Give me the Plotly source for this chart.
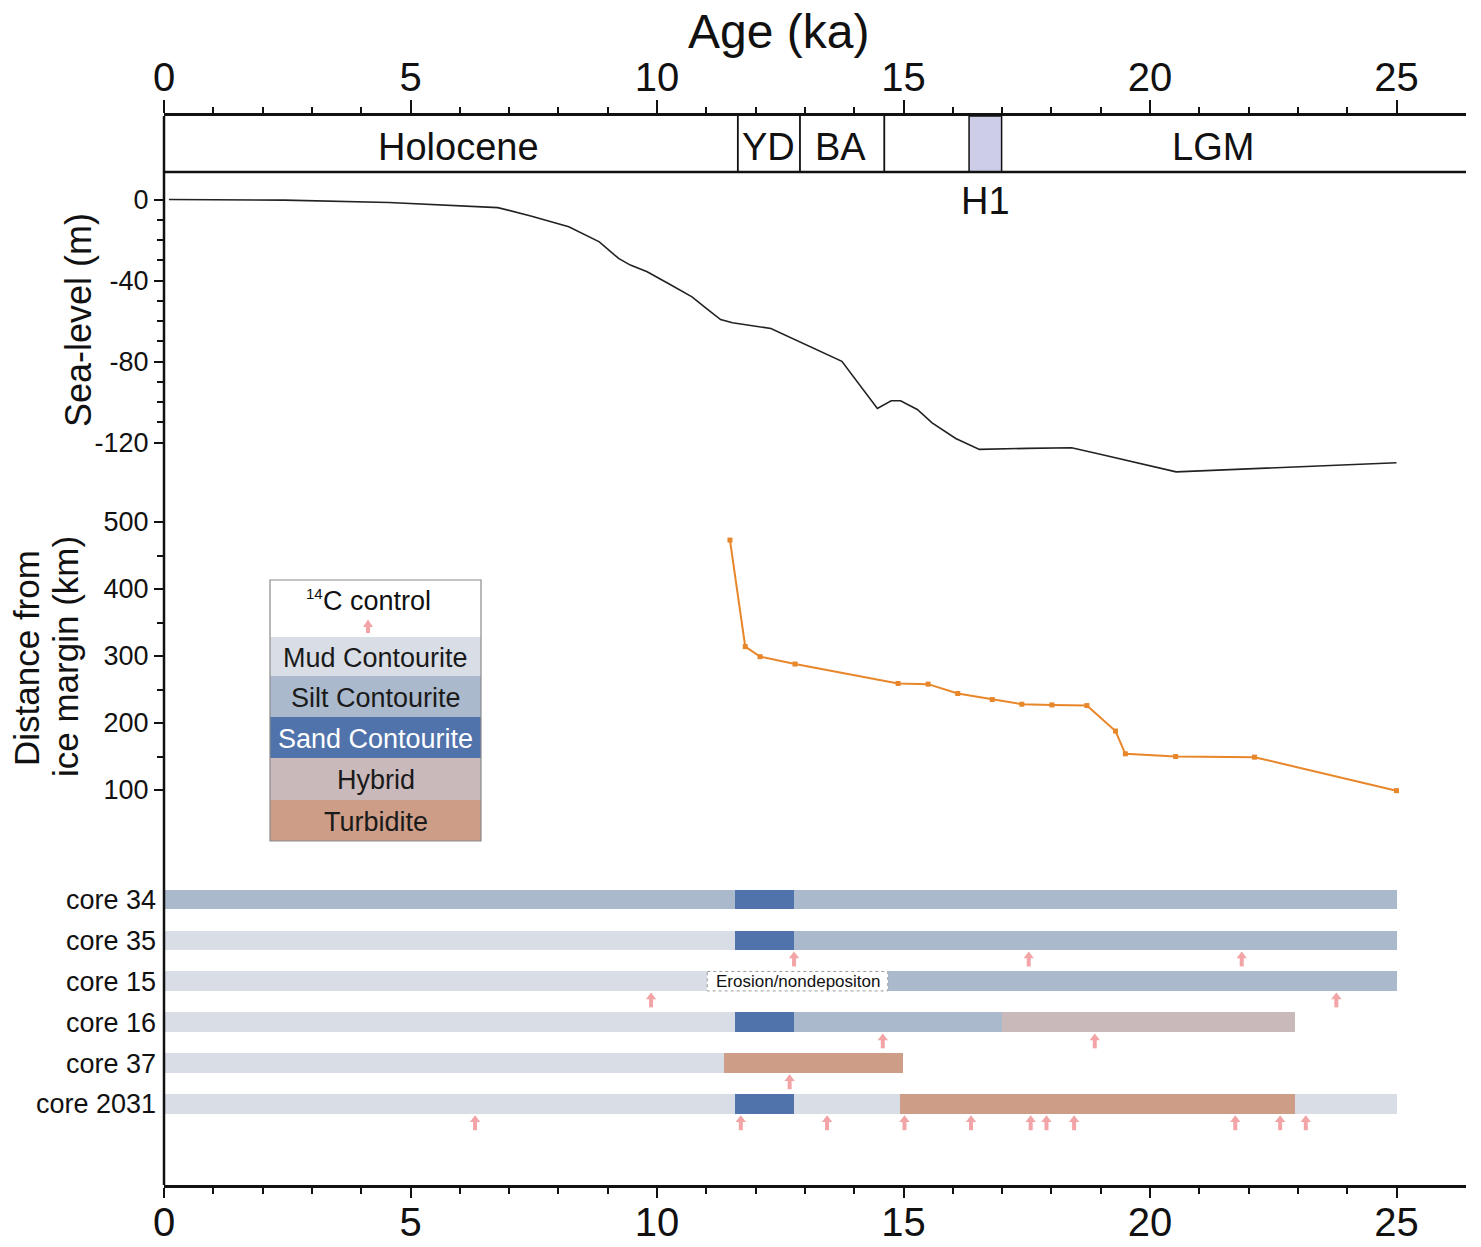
import plotly.graph_objects as go

# ---------------- data ----------------
# Sea-level curve (age in ka, sea level in m)
sea_age = [0.1, 2.44, 4.56, 6.77, 7.44, 8.21, 8.83, 9.22, 9.46, 9.80, 10.23, 10.71, 11.00,
           11.29, 11.53, 11.74, 12.31, 13.75, 14.47, 14.75, 14.94, 15.28, 15.58, 16.06,
           16.54, 17.5, 18.41, 18.99, 20.53, 25.0]
sea_level = [0.0, -0.3, -1.5, -4.0, -8.1, -13.5, -20.9, -29.1, -32.4, -35.7, -41.5, -48.1, -53.8,
             -59.3, -60.9, -61.6, -63.7, -79.9, -103.2, -99.4, -99.4, -103.7, -110.3, -118.0,
             -123.4, -122.9, -122.6, -125.8, -134.5, -130.0]

# Distance from ice margin (age in ka, distance in km)
dist_age = [11.48, 11.79, 12.09, 12.80, 14.89, 15.50, 16.10, 16.80, 17.40, 18.01, 18.72,
            19.30, 19.50, 20.52, 22.12, 25.00]
dist_km = [473, 314, 299, 288, 259, 258, 244, 235, 228, 227, 226, 188, 154, 150, 149, 99]

# Cores and facies
cores = ["core 34", "core 35", "core 15", "core 16", "core 37", "core 2031"]
facies_names = ["Mud Contourite", "Silt Contourite", "Sand Contourite", "Hybrid", "Turbidite"]
facies_colors = ["#d9dee6", "#aab9cc", "#5173ab", "#c9b9ba", "#cd9d88"]
facies_text_colors = ["#1a1a1a", "#1a1a1a", "#ffffff", "#1a1a1a", "#1a1a1a"]

seg_core = ["core 34", "core 34", "core 34",
            "core 35", "core 35", "core 35",
            "core 15", "core 15", "core 15",
            "core 16", "core 16", "core 16", "core 16",
            "core 37", "core 37",
            "core 2031", "core 2031", "core 2031", "core 2031", "core 2031"]
seg_start = [0, 11.58, 12.78,
             0, 11.58, 12.78,
             0, 14.68, 17.08,
             0, 11.58, 12.78, 16.99,
             0, 11.36,
             0, 11.58, 12.78, 14.92, 22.94]
seg_end = [11.58, 12.78, 25.0,
           11.58, 12.78, 25.0,
           11.02, 17.08, 25.0,
           11.58, 12.78, 16.99, 22.94,
           11.36, 14.98,
           11.58, 12.78, 14.92, 22.94, 25.0]
seg_facies = ["Silt Contourite", "Sand Contourite", "Silt Contourite",
              "Mud Contourite", "Sand Contourite", "Silt Contourite",
              "Mud Contourite", "Silt Contourite", "Silt Contourite",
              "Mud Contourite", "Sand Contourite", "Silt Contourite", "Hybrid",
              "Mud Contourite", "Turbidite",
              "Mud Contourite", "Sand Contourite", "Mud Contourite", "Turbidite", "Mud Contourite"]

gap_core = ["core 15"]
gap_start = [11.02]
gap_end = [14.68]
gap_label = ["Erosion/nondepositon"]

# 14C control points
c14_core = ["core 35", "core 35", "core 35",
            "core 15", "core 15",
            "core 16", "core 16",
            "core 37",
            "core 2031", "core 2031", "core 2031", "core 2031", "core 2031", "core 2031",
            "core 2031", "core 2031", "core 2031", "core 2031", "core 2031"]
c14_age = [12.78, 17.54, 21.86,
           9.88, 23.78,
           14.58, 18.88,
           12.69,
           6.31, 11.70, 13.45, 15.02, 16.37, 17.58, 17.90, 18.46, 21.73, 22.64, 23.16]

# Climate periods
period_names = ["Holocene", "YD", "BA", "LGM"]
period_label_age = [5.97, 12.27, 13.72, 21.28]
period_bounds = [11.64, 12.90, 14.61]
h1_name = "H1"
h1_start, h1_end = 16.33, 16.99

age_ticks = [0, 5, 10, 15, 20, 25]
age_minor = [a for a in range(1, 25) if a % 5 != 0]
sea_ticks = [0, -40, -80, -120]
sea_ticktext = ["0", "-40", "-80", "-120"]
sea_minor = [-10, -20, -30, -50, -60, -70, -90, -100, -110]
dist_ticks = [100, 200, 300, 400, 500]
dist_minor = [150, 250, 350, 450]

# ---------------- geometry helpers ----------------
W, H = 1481, 1247
ML, MR, MT, MB = 164, 15, 116, 62
PW, PH = W - ML - MR, H - MT - MB
FONT = "Liberation Sans, Arial, sans-serif"
BLACK = "#111111"
PINK = "#f2a4a7"


def px(x):
    return (x - ML) / PW


def py(y):
    return (H - MB - y) / PH


def note(**kw):
    kw.setdefault("showarrow", False)
    kw.setdefault("xanchor", "center")
    kw.setdefault("yanchor", "middle")
    fig.add_annotation(**kw)


core_idx = {c: i for i, c in enumerate(cores)}
BAR_W = 0.476

fig = go.Figure()

# core facies bars
for name, col in zip(facies_names, facies_colors):
    ys, xs, bs = [], [], []
    for c, s, e, f in zip(seg_core, seg_start, seg_end, seg_facies):
        if f == name:
            ys.append(core_idx[c])
            xs.append(e - s)
            bs.append(s)
    fig.add_trace(go.Bar(x=xs, y=ys, base=bs, orientation="h", width=BAR_W,
                         marker=dict(color=col, line=dict(width=0)),
                         xaxis="x", yaxis="y", showlegend=False, hoverinfo="skip"))

# erosion / non-deposition boxes
for c, s, e, lab in zip(gap_core, gap_start, gap_end, gap_label):
    i = core_idx[c]
    fig.add_shape(type="rect", xref="x", yref="y", x0=s, x1=e, y0=i - BAR_W / 2, y1=i + BAR_W / 2,
                  fillcolor="white", line=dict(color="#9a9a9a", width=1, dash="dot"), layer="above")
    note(xref="x", yref="y", x=(s + e) / 2, y=i, text=lab,
         font=dict(family=FONT, size=17, color=BLACK))

# 14C control arrows
c14_y = [core_idx[c] for c in c14_core]
fig.add_trace(go.Scatter(x=c14_age, y=[v + 0.52 for v in c14_y], mode="markers",
                         marker=dict(symbol="line-ns", size=7, line=dict(color=PINK, width=4)),
                         xaxis="x", yaxis="y", showlegend=False, hoverinfo="skip"))
fig.add_trace(go.Scatter(x=c14_age, y=[v + 0.385 for v in c14_y], mode="markers",
                         marker=dict(symbol="triangle-up", size=9, color=PINK, line=dict(width=0)),
                         xaxis="x", yaxis="y", showlegend=False, hoverinfo="skip"))

# distance from ice margin
fig.add_trace(go.Scatter(x=dist_age, y=dist_km, mode="lines+markers",
                         line=dict(color="#e8862a", width=2),
                         marker=dict(symbol="square", size=5, color="#e8862a"),
                         xaxis="x", yaxis="y2", showlegend=False, hoverinfo="skip"))

# sea level
fig.add_trace(go.Scatter(x=sea_age, y=sea_level, mode="lines",
                         line=dict(color="#222222", width=1.6),
                         xaxis="x", yaxis="y3", showlegend=False, hoverinfo="skip"))

# invisible trace to carry the top axis
fig.add_trace(go.Scatter(x=[0, 25], y=[0.5, 0.5], mode="markers", marker=dict(opacity=0),
                         xaxis="x2", yaxis="y4", showlegend=False, hoverinfo="skip"))

# ---------------- period box ----------------
box_bottom = py(172)
fig.add_shape(type="rect", xref="x2", yref="paper", x0=h1_start, x1=h1_end, y0=box_bottom, y1=1,
              fillcolor="#cdcde7", line=dict(color=BLACK, width=1.5))
for b in period_bounds:
    fig.add_shape(type="line", xref="x2", yref="paper", x0=b, x1=b, y0=box_bottom, y1=1,
                  line=dict(color=BLACK, width=1.8))
fig.add_shape(type="line", xref="paper", yref="paper", x0=0, x1=1, y0=box_bottom, y1=box_bottom,
              line=dict(color=BLACK, width=2.5))
for n, a in zip(period_names, period_label_age):
    note(xref="x2", yref="paper", x=a, y=py(147), text=n,
         font=dict(family=FONT, size=38, color=BLACK))
note(xref="x2", yref="paper", x=(h1_start + h1_end) / 2, y=py(201), text=h1_name,
     font=dict(family=FONT, size=38, color=BLACK))

# left axis line spanning the whole figure
fig.add_shape(type="line", xref="paper", yref="paper", x0=0, x1=0, y0=0, y1=1,
              line=dict(color=BLACK, width=2.5))

# ---------------- legend box ----------------
LX0, LX1 = 270, 481
row_edges = [580, 637, 676, 717, 758, 800, 841]
fig.add_shape(type="rect", xref="paper", yref="paper", x0=px(LX0), x1=px(LX1),
              y0=py(row_edges[1]), y1=py(row_edges[0]), fillcolor="white", line=dict(width=0))
for k, (name, col, tcol) in enumerate(zip(facies_names, facies_colors, facies_text_colors)):
    top, bot = row_edges[k + 1], row_edges[k + 2]
    fig.add_shape(type="rect", xref="paper", yref="paper", x0=px(LX0), x1=px(LX1),
                  y0=py(bot), y1=py(top), fillcolor=col, line=dict(width=0))
    note(xref="paper", yref="paper", x=px((LX0 + LX1) / 2), y=py((top + bot) / 2 + 1),
         text=name, font=dict(family=FONT, size=27, color=tcol))
fig.add_shape(type="rect", xref="paper", yref="paper", x0=px(LX0), x1=px(LX1),
              y0=py(row_edges[-1]), y1=py(row_edges[0]), fillcolor="rgba(0,0,0,0)",
              line=dict(color="#8a8a8a", width=1.2))
note(xref="paper", yref="paper", x=px(377), y=py(601), text="C control",
     font=dict(family=FONT, size=27, color=BLACK))
note(xref="paper", yref="paper", x=px(314), y=py(593), text="14",
     font=dict(family=FONT, size=15, color=BLACK))
# legend arrow
ax = 368
fig.add_shape(type="path", xref="paper", yref="paper",
              path=f"M {px(ax - 5)} {py(627)} L {px(ax + 5)} {py(627)} L {px(ax)} {py(619.5)} Z",
              fillcolor=PINK, line=dict(width=0))
fig.add_shape(type="rect", xref="paper", yref="paper", x0=px(ax - 2), x1=px(ax + 2),
              y0=py(633), y1=py(626.5), fillcolor=PINK, line=dict(width=0))

# ---------------- titles ----------------
note(xref="paper", yref="paper", x=px(778), y=py(31), text="Age (ka)",
     font=dict(family=FONT, size=48, color=BLACK))
note(xref="paper", yref="paper", x=px(78), y=py(320), text="Sea-level (m)",
     textangle=-90, font=dict(family=FONT, size=36, color=BLACK))
note(xref="paper", yref="paper", x=px(26), y=py(658), text="Distance from",
     textangle=-90, font=dict(family=FONT, size=35, color=BLACK))
note(xref="paper", yref="paper", x=px(65), y=py(657), text="ice margin (km)",
     textangle=-90, font=dict(family=FONT, size=35, color=BLACK))

# ---------------- axes ----------------
XR = [0, PW / 49.3]
xcommon = dict(domain=[0, 1], range=XR, showline=True, linecolor=BLACK, linewidth=2.5,
               ticks="outside", tickwidth=2, tickcolor=BLACK,
               tickmode="array", tickvals=age_ticks,
               tickfont=dict(family=FONT, size=40, color=BLACK),
               minor=dict(tickvals=age_minor, ticklen=6, tickwidth=2, ticks="outside", tickcolor=BLACK),
               showgrid=False, zeroline=False, fixedrange=True, automargin=False)

ycommon = dict(showline=False, showgrid=False, zeroline=False, ticks="outside", ticklen=9,
               tickwidth=2, tickcolor=BLACK, tickfont=dict(family=FONT, size=27, color=BLACK),
               fixedrange=True, automargin=False)


def yrange(top_px, val_top_px, val_top, scale, bot_px):
    vtop = val_top + (val_top_px - top_px) / scale
    vbot = val_top - (bot_px - val_top_px) / scale
    return [vbot, vtop]


core_top_px, core_bot_px = 875, H - MB
core0_px, core_step = 899.3, 40.94

fig.update_layout(
    width=W, height=H,
    margin=dict(l=ML, r=MR, t=MT, b=MB, pad=0, autoexpand=False),
    paper_bgcolor="white", plot_bgcolor="white",
    barmode="overlay", bargap=0,
    showlegend=False,
    font=dict(family=FONT, color=BLACK),
    xaxis=dict(**xcommon, anchor="y", side="bottom", ticklen=10, ticklabelstandoff=-10),
    xaxis2=dict(**xcommon, anchor="y4", side="top", ticklen=13, ticklabelstandoff=-7),
    yaxis=dict(**{k: v for k, v in ycommon.items() if k != "ticks"},
               ticks="", domain=[0, py(core_top_px)], anchor="x",
               range=[(core_bot_px - core0_px) / core_step, (core_top_px - core0_px) / core_step],
               tickmode="array", tickvals=list(range(len(cores))), ticktext=cores,
               ticklabelstandoff=7),
    yaxis2=dict(**ycommon, domain=[py(870), py(500)], anchor="x",
                range=yrange(500, 522, 500, 0.67, 870),
                tickmode="array", tickvals=dist_ticks,
                minor=dict(tickvals=dist_minor, ticklen=6, tickwidth=2, ticks="outside", tickcolor=BLACK)),
    yaxis3=dict(**ycommon, domain=[py(490), py(180)], anchor="x",
                range=yrange(180, 199.5, 0, 2.025, 490),
                tickmode="array", tickvals=sea_ticks, ticktext=sea_ticktext,
                minor=dict(tickvals=sea_minor, ticklen=6, tickwidth=2, ticks="outside", tickcolor=BLACK)),
    yaxis4=dict(domain=[py(172), 1], range=[0, 1], anchor="x2", visible=False, fixedrange=True),
)

fig.write_html("out.html")
